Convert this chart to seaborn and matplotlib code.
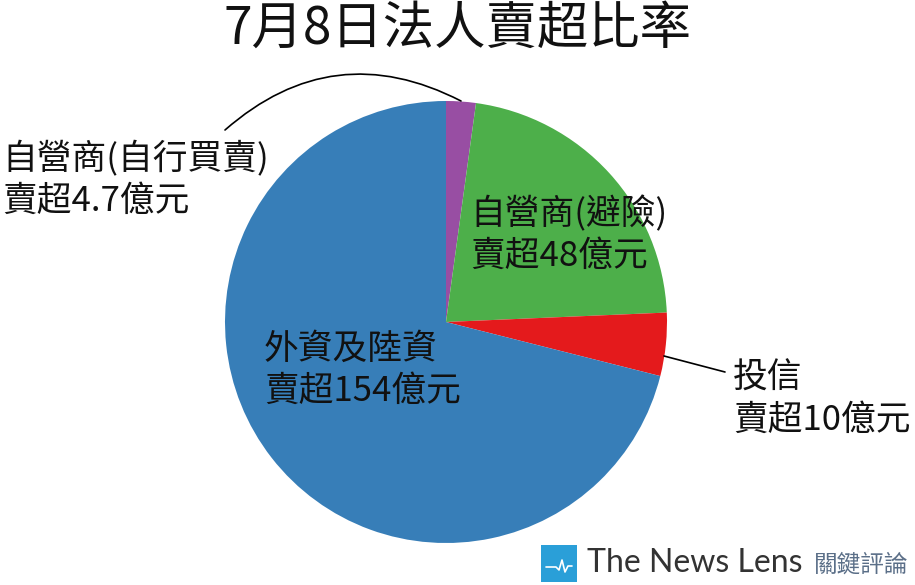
import matplotlib
matplotlib.use("Agg")
import matplotlib.pyplot as plt
import seaborn as sns
from matplotlib.patches import FancyArrowPatch, Rectangle
from matplotlib.lines import Line2D

sns.set_theme(style="white")
plt.rcParams['font.family'] = ['Noto Sans CJK TC', 'DejaVu Sans']

# Data
categories = ["自營商(自行買賣)", "自營商(避險)", "投信", "外資及陸資"]
values = [4.7, 48, 10, 154]
label_texts = ["自營商(自行買賣)\n賣超4.7億元", "自營商(避險)\n賣超48億元",
               "投信\n賣超10億元", "外資及陸資\n賣超154億元"]
title = "7月8日法人賣超比率"

pal = sns.color_palette("Set1")
colors = [pal[3], pal[2], pal[0], pal[1]]

W, H = 915, 585
fig = plt.figure(figsize=(W / 100, H / 100), dpi=100)

cx, cy, r = 446, 322, 221
ax = fig.add_axes([(cx - r) / W, (H - cy - r) / H, 2 * r / W, 2 * r / H])
wedges, _ = ax.pie(values, colors=colors, startangle=90, counterclock=False,
                   radius=1, wedgeprops=dict(linewidth=0.6, edgecolor="none"))
ax.set_xlim(-1, 1)
ax.set_ylim(-1, 1)
ax.set_aspect("equal")
ax.axis("off")

def fx(px):
    return px / W

def fy(py):
    return 1 - py / H

fs = 25
tc = "#111111"
fig.text(fx(457), fy(29), title, ha="center", va="center", fontsize=37, color=tc,
         fontweight="light")

# labels (left x, center y of block)
for (x, y), t in zip([(2, 180), (470, 235), (733, 399), (264, 370)], label_texts):
    fig.text(fx(x), fy(y), t, ha="left", va="center", fontsize=fs,
             linespacing=1.25, color=tc, fontweight="light")

# leader lines
arc = FancyArrowPatch((fx(225), fy(130)), (fx(461), fy(101)), transform=fig.transFigure,
                      connectionstyle="arc3,rad=-0.34", arrowstyle="-",
                      color="black", linewidth=1.2, shrinkA=0, shrinkB=0)
fig.add_artist(arc)
line = FancyArrowPatch((fx(664), fy(356)), (fx(725), fy(372)), transform=fig.transFigure,
                       arrowstyle="-", color="black", linewidth=1.2, shrinkA=0, shrinkB=0)
fig.add_artist(line)

# watermark
fig.add_artist(Rectangle((fx(541), fy(582)), 36 / W, 37 / H, transform=fig.transFigure,
                         facecolor="#2a9fd8", edgecolor="none"))
px_ = [546, 556, 559, 562, 565, 568, 572]
py_ = [567, 567, 570, 560, 572, 566, 566]
fig.add_artist(Line2D([fx(p) for p in px_], [fy(p) for p in py_], transform=fig.transFigure,
                      color="white", linewidth=1.2))
fig.text(fx(587), fy(563), "The News Lens", ha="left", va="center", fontsize=23,
         color="#333333", family=["Lato", "DejaVu Sans"])
fig.text(fx(814), fy(565), "關鍵評論", ha="left", va="center", fontsize=17,
         color="#5b6f88")

fig.savefig("out.png", dpi=100, facecolor="white")
